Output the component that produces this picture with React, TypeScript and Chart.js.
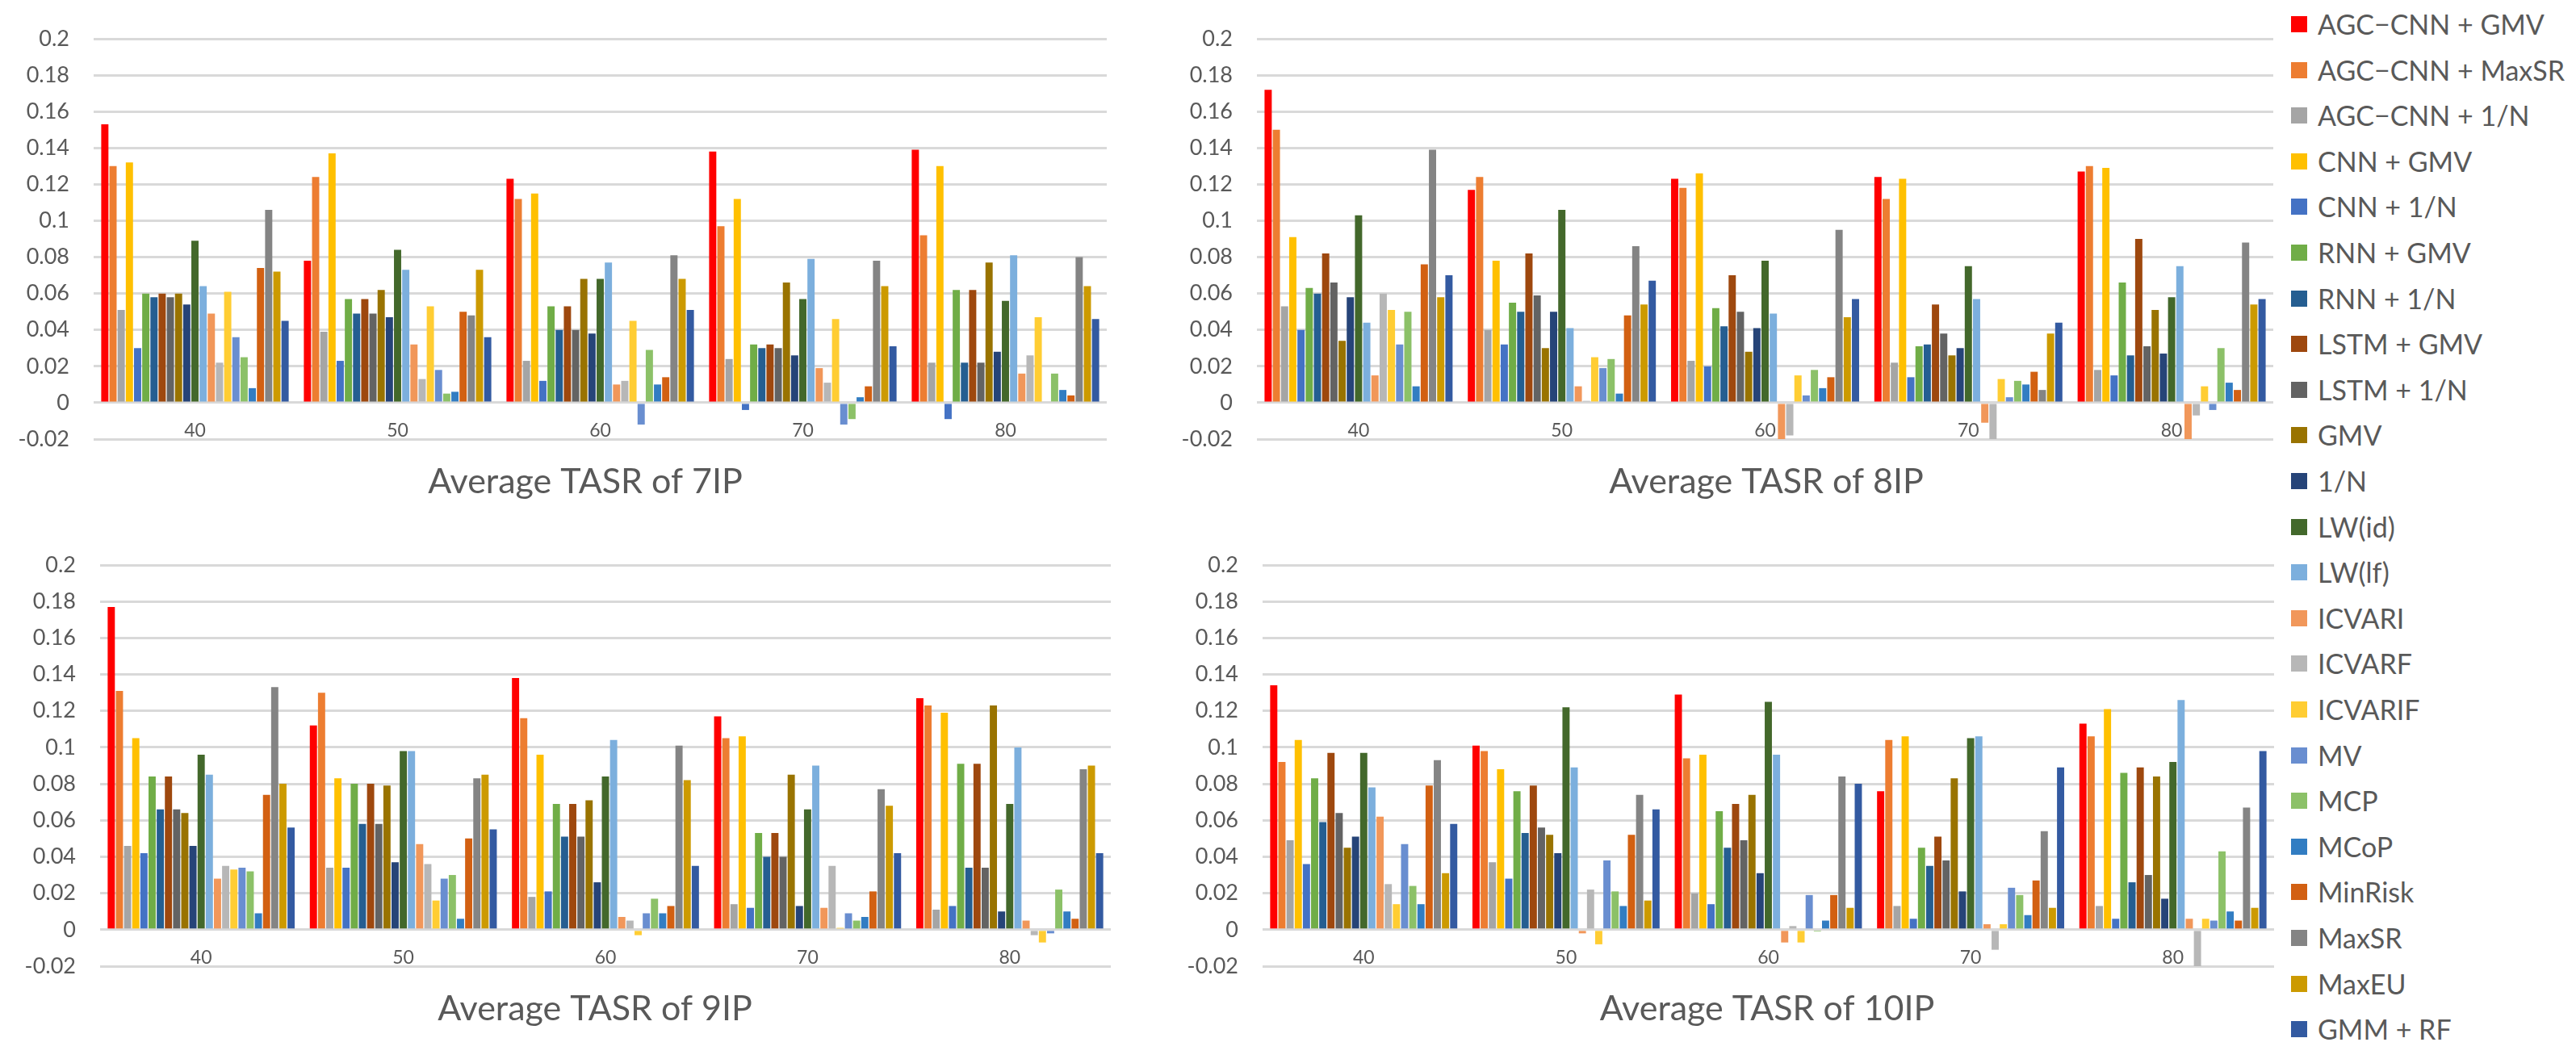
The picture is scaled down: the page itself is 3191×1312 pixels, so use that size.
import React, { useEffect, useRef } from 'react';
import { Chart, registerables } from 'chart.js';

Chart.register(...registerables);

// ---------- data ----------
const categories = ['40', '50', '60', '70', '80'];

const seriesNames = [
  'AGC\u2212CNN + GMV', 'AGC\u2212CNN + MaxSR', 'AGC\u2212CNN + 1/N', 'CNN + GMV', 'CNN + 1/N',
  'RNN + GMV', 'RNN + 1/N', 'LSTM + GMV', 'LSTM + 1/N', 'GMV', '1/N', 'LW(id)', 'LW(lf)',
  'ICVARI', 'ICVARF', 'ICVARIF', 'MV', 'MCP', 'MCoP', 'MinRisk', 'MaxSR', 'MaxEU', 'GMM + RF',
];

const seriesColors = [
  '#FF0000', '#ED7D31', '#A5A5A5', '#FFC000', '#4472C4', '#70AD47', '#255E91', '#9E480E',
  '#636363', '#997300', '#264478', '#43682B', '#7CAFDD', '#F1975A', '#B7B7B7', '#FFCD33',
  '#698ED0', '#8CC168', '#327DC2', '#D26012', '#848484', '#CC9A00', '#335AA1',
];

const yTickValues = [-0.02, 0, 0.02, 0.04, 0.06, 0.08, 0.1, 0.12, 0.14, 0.16, 0.18, 0.2];

// Average TASR of 7IP (one array per category, one value per series)
const ip7_40 = [0.153, 0.130, 0.051, 0.132, 0.030, 0.060, 0.058, 0.060, 0.058, 0.060, 0.054, 0.089, 0.064, 0.049, 0.022, 0.061, 0.036, 0.025, 0.008, 0.074, 0.106, 0.072, 0.045];
const ip7_50 = [0.078, 0.124, 0.039, 0.137, 0.023, 0.057, 0.049, 0.057, 0.049, 0.062, 0.047, 0.084, 0.073, 0.032, 0.013, 0.053, 0.018, 0.005, 0.006, 0.050, 0.048, 0.073, 0.036];
const ip7_60 = [0.123, 0.112, 0.023, 0.115, 0.012, 0.053, 0.040, 0.053, 0.040, 0.068, 0.038, 0.068, 0.077, 0.010, 0.012, 0.045, -0.012, 0.029, 0.010, 0.014, 0.081, 0.068, 0.051];
const ip7_70 = [0.138, 0.097, 0.024, 0.112, -0.004, 0.032, 0.030, 0.032, 0.030, 0.066, 0.026, 0.057, 0.079, 0.019, 0.011, 0.046, -0.012, -0.009, 0.003, 0.009, 0.078, 0.064, 0.031];
const ip7_80 = [0.139, 0.092, 0.022, 0.130, -0.009, 0.062, 0.022, 0.062, 0.022, 0.077, 0.028, 0.056, 0.081, 0.016, 0.026, 0.047, 0, 0.016, 0.007, 0.004, 0.080, 0.064, 0.046];

// Average TASR of 8IP
const ip8_40 = [0.172, 0.150, 0.053, 0.091, 0.040, 0.063, 0.060, 0.082, 0.066, 0.034, 0.058, 0.103, 0.044, 0.015, 0.060, 0.051, 0.032, 0.050, 0.009, 0.076, 0.139, 0.058, 0.070];
const ip8_50 = [0.117, 0.124, 0.040, 0.078, 0.032, 0.055, 0.050, 0.082, 0.059, 0.030, 0.050, 0.106, 0.041, 0.009, 0.001, 0.025, 0.019, 0.024, 0.005, 0.048, 0.086, 0.054, 0.067];
const ip8_60 = [0.123, 0.118, 0.023, 0.126, 0.020, 0.052, 0.042, 0.070, 0.050, 0.028, 0.041, 0.078, 0.049, -0.020, -0.018, 0.015, 0.004, 0.018, 0.008, 0.014, 0.095, 0.047, 0.057];
const ip8_70 = [0.124, 0.112, 0.022, 0.123, 0.014, 0.031, 0.032, 0.054, 0.038, 0.026, 0.030, 0.075, 0.057, -0.011, -0.021, 0.013, 0.003, 0.012, 0.010, 0.017, 0.007, 0.038, 0.044];
const ip8_80 = [0.127, 0.130, 0.018, 0.129, 0.015, 0.066, 0.026, 0.090, 0.031, 0.051, 0.027, 0.058, 0.075, -0.020, -0.007, 0.009, -0.004, 0.030, 0.011, 0.007, 0.088, 0.054, 0.057];

// Average TASR of 9IP
const ip9_40 = [0.177, 0.131, 0.046, 0.105, 0.042, 0.084, 0.066, 0.084, 0.066, 0.064, 0.046, 0.096, 0.085, 0.028, 0.035, 0.033, 0.034, 0.032, 0.009, 0.074, 0.133, 0.080, 0.056];
const ip9_50 = [0.112, 0.130, 0.034, 0.083, 0.034, 0.080, 0.058, 0.080, 0.058, 0.079, 0.037, 0.098, 0.098, 0.047, 0.036, 0.016, 0.028, 0.030, 0.006, 0.050, 0.083, 0.085, 0.055];
const ip9_60 = [0.138, 0.116, 0.018, 0.096, 0.021, 0.069, 0.051, 0.069, 0.051, 0.071, 0.026, 0.084, 0.104, 0.007, 0.005, -0.003, 0.009, 0.017, 0.009, 0.013, 0.101, 0.082, 0.035];
const ip9_70 = [0.117, 0.105, 0.014, 0.106, 0.012, 0.053, 0.040, 0.053, 0.040, 0.085, 0.013, 0.066, 0.090, 0.012, 0.035, 0.001, 0.009, 0.005, 0.007, 0.021, 0.077, 0.068, 0.042];
const ip9_80 = [0.127, 0.123, 0.011, 0.119, 0.013, 0.091, 0.034, 0.091, 0.034, 0.123, 0.010, 0.069, 0.100, 0.005, -0.003, -0.007, -0.002, 0.022, 0.010, 0.006, 0.088, 0.090, 0.042];

// Average TASR of 10IP
const ip10_40 = [0.134, 0.092, 0.049, 0.104, 0.036, 0.083, 0.059, 0.097, 0.064, 0.045, 0.051, 0.097, 0.078, 0.062, 0.025, 0.014, 0.047, 0.024, 0.014, 0.079, 0.093, 0.031, 0.058];
const ip10_50 = [0.101, 0.098, 0.037, 0.088, 0.028, 0.076, 0.053, 0.079, 0.056, 0.052, 0.042, 0.122, 0.089, -0.002, 0.022, -0.008, 0.038, 0.021, 0.013, 0.052, 0.074, 0.016, 0.066];
const ip10_60 = [0.129, 0.094, 0.020, 0.096, 0.014, 0.065, 0.045, 0.069, 0.049, 0.074, 0.031, 0.125, 0.096, -0.007, 0.002, -0.007, 0.019, -0.001, 0.005, 0.019, 0.084, 0.012, 0.080];
const ip10_70 = [0.076, 0.104, 0.013, 0.106, 0.006, 0.045, 0.035, 0.051, 0.038, 0.083, 0.021, 0.105, 0.106, 0.003, -0.011, 0.003, 0.023, 0.019, 0.008, 0.027, 0.054, 0.012, 0.089];
const ip10_80 = [0.113, 0.106, 0.013, 0.121, 0.006, 0.086, 0.026, 0.089, 0.030, 0.084, 0.017, 0.092, 0.126, 0.006, -0.021, 0.006, 0.005, 0.043, 0.010, 0.005, 0.067, 0.012, 0.098];

const panelTitles = ['Average TASR of 7IP', 'Average TASR of 8IP', 'Average TASR of 9IP', 'Average TASR of 10IP'];
const panelValues = [
  [ip7_40, ip7_50, ip7_60, ip7_70, ip7_80],
  [ip8_40, ip8_50, ip8_60, ip8_70, ip8_80],
  [ip9_40, ip9_50, ip9_60, ip9_70, ip9_80],
  [ip10_40, ip10_50, ip10_60, ip10_70, ip10_80],
];

// ---------- layout (page pixels) ----------
type Layout = {
  left: number; top: number; width: number; height: number;
  plotL: number; plotR: number; plotT: number; plotB: number;
  titleX: number; titleY: number;
};

const panelLayout: Layout[] = [
  { left: 0, top: 0, width: 1440, height: 650, plotL: 116, plotR: 1371, plotT: 48, plotB: 544, titleX: 725, titleY: 611 },
  { left: 1440, top: 0, width: 1390, height: 650, plotL: 1557, plotR: 2816, plotT: 48, plotB: 544, titleX: 2188, titleY: 611 },
  { left: 0, top: 650, width: 1440, height: 662, plotL: 124, plotR: 1376, plotT: 700, plotB: 1197, titleX: 737, titleY: 1264 },
  { left: 1440, top: 650, width: 1390, height: 662, plotL: 1564, plotR: 2817, plotT: 700, plotB: 1197, titleX: 2189, titleY: 1264 },
];

const TEXT_COLOR = '#595959';
const FONT = 'Lato';

const panelTextPlugin = {
  id: 'panelText',
  afterDraw(chart: any, _args: any, opts: any) {
    const { ctx } = chart;
    const xs = chart.scales.x;
    const ys = chart.scales.y;
    ctx.save();
    ctx.fillStyle = TEXT_COLOR;
    ctx.textAlign = 'center';
    ctx.textBaseline = 'alphabetic';
    ctx.font = `23px ${FONT}`;
    const yb = ys.getPixelForValue(yTickValues[0]) - 3;
    categories.forEach((c, i) => ctx.fillText(c, xs.getPixelForValue(i), yb));
    ctx.font = `43px ${FONT}`;
    ctx.fillText(opts.title, opts.titleX, opts.titleY);
    ctx.restore();
  },
};

function Panel({ values, title, layout }: { values: number[][]; title: string; layout: Layout }) {
  const ref = useRef<HTMLCanvasElement | null>(null);
  useEffect(() => {
    const canvas = ref.current;
    if (!canvas) return;
    const datasets = seriesNames.map((name, s) => ({
      label: name,
      data: values.map((cat) => cat[s]),
      backgroundColor: seriesColors[s],
      borderWidth: 0,
      categoryPercentage: 0.93,
      barPercentage: 0.88,
    }));
    const chart = new Chart(canvas, {
      type: 'bar',
      data: { labels: categories, datasets },
      plugins: [panelTextPlugin],
      options: {
        animation: false,
        responsive: false,
        events: [],
        layout: {
          padding: {
            left: 0,
            top: layout.plotT - layout.top,
            right: layout.left + layout.width - layout.plotR,
            bottom: layout.top + layout.height - layout.plotB,
          },
        },
        plugins: {
          legend: { display: false },
          tooltip: { enabled: false },
          title: { display: false },
          panelText: {
            title,
            titleX: layout.titleX - layout.left,
            titleY: layout.titleY - layout.top,
          },
        } as any,
        scales: {
          x: { type: 'category', display: false },
          y: {
            min: yTickValues[0],
            max: yTickValues[yTickValues.length - 1],
            afterBuildTicks: (scale: any) => {
              scale.ticks = yTickValues.map((v) => ({ value: v }));
            },
            afterFit: (scale: any) => {
              scale.width = layout.plotL - layout.left;
            },
            border: { display: false },
            grid: { color: '#D9D9D9', lineWidth: 3, drawTicks: false },
            ticks: {
              padding: 30,
              color: TEXT_COLOR,
              font: { size: 27, family: FONT },
              callback: (v: any) => String(Number(Number(v).toFixed(2))),
            },
          },
        },
      } as any,
    });
    return () => chart.destroy();
  }, [values, title, layout]);
  return (
    <canvas
      ref={ref}
      width={layout.width}
      height={layout.height}
      style={{ position: 'absolute', left: layout.left, top: layout.top, width: layout.width, height: layout.height }}
    />
  );
}

function Legend() {
  return (
    <div style={{ position: 'absolute', left: 2838, top: 0 }}>
      {seriesNames.map((name, i) => (
        <div
          key={name}
          style={{
            position: 'absolute',
            left: 0,
            top: 30 + i * 56.6 - 20,
            height: 40,
            display: 'flex',
            alignItems: 'center',
            whiteSpace: 'nowrap',
          }}
        >
          <div style={{ width: 20, height: 20, background: seriesColors[i], flex: '0 0 auto' }} />
          <span style={{ marginLeft: 13, fontFamily: FONT, fontSize: 34, color: TEXT_COLOR, lineHeight: '40px' }}>{name}</span>
        </div>
      ))}
    </div>
  );
}

export default function App() {
  return (
    <div style={{ position: 'absolute', left: 0, top: 0, width: 3191, height: 1312, background: '#ffffff', overflow: 'hidden' }}>
      {panelLayout.map((layout, i) => (
        <Panel key={i} values={panelValues[i]} title={panelTitles[i]} layout={layout} />
      ))}
      <Legend />
    </div>
  );
}
